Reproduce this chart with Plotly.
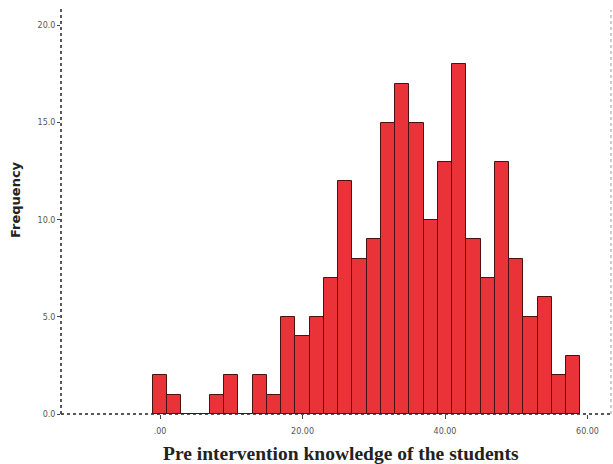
import plotly.graph_objects as go

bin_centers = [0, 2, 4, 6, 8, 10, 12, 14, 16, 18, 20, 22, 24, 26, 28, 30, 32, 34, 36, 38,
               40, 42, 44, 46, 48, 50, 52, 54, 56, 58]
counts = [2, 1, 0, 0, 1, 2, 0, 2, 1, 5, 4, 5, 7, 12, 8, 9, 15, 17, 15, 10,
          13, 18, 9, 7, 13, 8, 5, 6, 2, 3]
bin_width = 2
x_tick_vals = [0, 20, 40, 60]
x_tick_text = [".00", "20.00", "40.00", "60.00"]
y_tick_vals = [0, 5, 10, 15, 20]
y_tick_text = ["0.0", "5.0", "10.0", "15.0", "20.0"]

fig = go.Figure()
fig.add_trace(go.Bar(
    x=bin_centers, y=counts, width=[bin_width] * len(counts),
    marker=dict(color="#ea3239", line=dict(color="#4a1212", width=1)),
    showlegend=False, cliponaxis=False,
))

fig.update_layout(
    width=613, height=464,
    margin=dict(l=61, r=2, t=10, b=50),
    paper_bgcolor="white", plot_bgcolor="white",
    bargap=0,
    xaxis=dict(
        range=[-13.9, 63.3], tickvals=x_tick_vals, ticktext=x_tick_text,
        showgrid=False, zeroline=False, showline=False, automargin=False,
        ticks="outside", ticklen=4, tickcolor="#444", ticklabelstandoff=5,
        tickfont=dict(family="DejaVu Sans", size=8, color="#555"),
    ),
    yaxis=dict(
        range=[0, 20.8], tickvals=y_tick_vals, ticktext=y_tick_text,
        showgrid=False, zeroline=False, showline=False, automargin=False,
        ticks="outside", ticklen=3, tickcolor="#444",
        tickfont=dict(family="DejaVu Sans", size=8, color="#555"),
    ),
    annotations=[
        dict(text="<b>Pre intervention knowledge of the students</b>",
             xref="paper", yref="paper", x=0.5, y=0, xanchor="center", yanchor="middle",
             xshift=5, yshift=-39, showarrow=False,
             font=dict(family="Liberation Serif", size=19.5, color="#222")),
        dict(text="<b>Frequency</b>", textangle=-90,
             xref="paper", yref="paper", x=0, y=0.5, xanchor="center", yanchor="middle",
             xshift=-46, yshift=12, showarrow=False,
             font=dict(family="DejaVu Sans", size=13, color="#222")),
    ],
    shapes=[
        dict(type="line", xref="paper", yref="paper", x0=0, x1=1, y0=0, y1=0,
             line=dict(color="#222", width=1.5, dash="dot")),
        dict(type="line", xref="paper", yref="paper", x0=0, x1=0, y0=0, y1=1.01,
             line=dict(color="#222", width=1.5, dash="dot")),
        dict(type="line", xref="paper", yref="paper", x0=1, x1=1, y0=0, y1=1,
             line=dict(color="#999", width=1, dash="dot")),
    ],
)

fig.write_html("out.html", config={"displayModeBar": False},
               post_script="document.body.style.margin='0';")
